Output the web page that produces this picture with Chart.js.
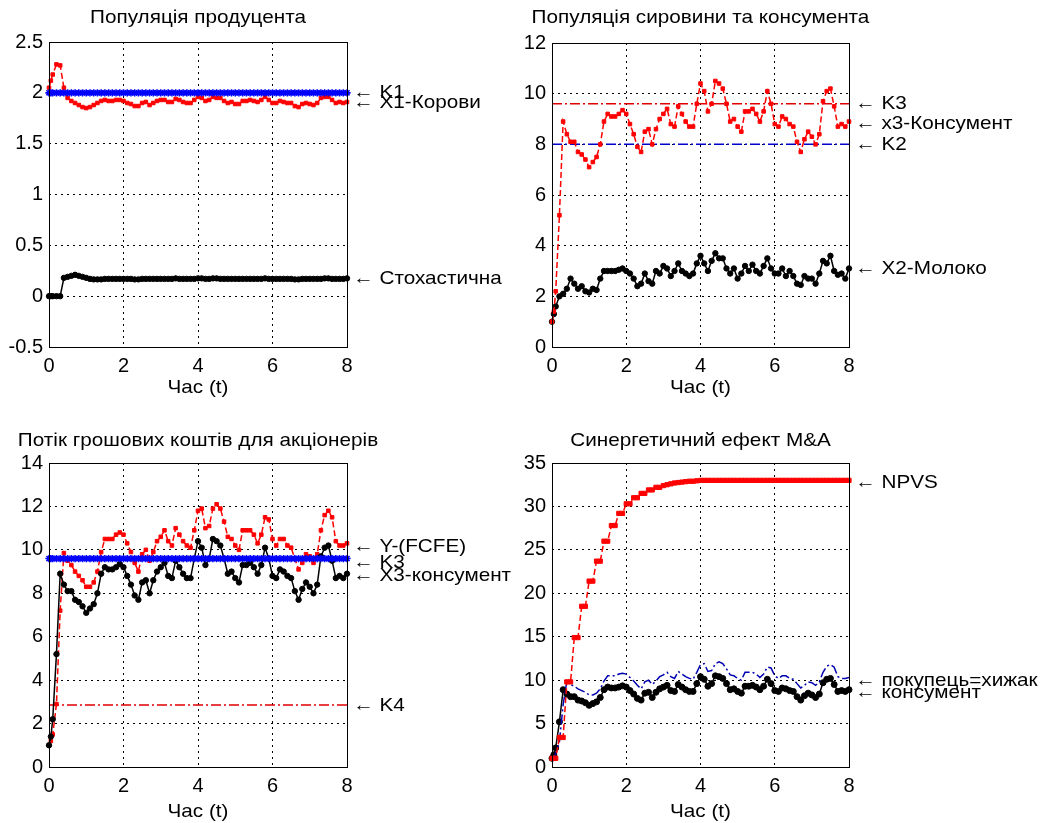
<!DOCTYPE html>
<html>
<head>
<meta charset="utf-8">
<script src="https://cdn.jsdelivr.net/npm/chart.js"></script>
<style>
  body { margin: 0; background: #fff; }
  #wrap { position: relative; width: 1042px; height: 823px; overflow: hidden; }
  canvas { position: absolute; }
</style>
</head>
<body>
<div id="wrap">
  <canvas id="c1" width="521" height="411" style="left:0;top:0"></canvas>
  <canvas id="c2" width="521" height="411" style="left:521px;top:0"></canvas>
  <canvas id="c3" width="521" height="412" style="left:0;top:411px"></canvas>
  <canvas id="c4" width="521" height="412" style="left:521px;top:411px"></canvas>
</div>
<script>
// time points (t)
const t = [0, 0.05, 0.1, 0.2, 0.3, 0.4, 0.5, 0.6, 0.7, 0.8,
  0.9, 1.0, 1.1, 1.2, 1.3, 1.4, 1.5, 1.6, 1.7, 1.8,
  1.9, 2.0, 2.1, 2.2, 2.3, 2.4, 2.5, 2.6, 2.7, 2.8,
  2.9, 3.0, 3.1, 3.2, 3.3, 3.4, 3.5, 3.6, 3.7, 3.8,
  3.9, 4.0, 4.1, 4.2, 4.3, 4.4, 4.5, 4.6, 4.7, 4.8,
  4.9, 5.0, 5.1, 5.2, 5.3, 5.4, 5.5, 5.6, 5.7, 5.8,
  5.9, 6.0, 6.1, 6.2, 6.3, 6.4, 6.5, 6.6, 6.7, 6.8,
  6.9, 7.0, 7.1, 7.2, 7.3, 7.4, 7.5, 7.6, 7.7, 7.8,
  7.9, 8.0]

// X1 - Корови
const x1 = [2.05, 2.12, 2.18, 2.28, 2.27, 2.05, 1.95, 1.92, 1.90, 1.88,
  1.86, 1.85, 1.86, 1.88, 1.90, 1.92, 1.93, 1.92, 1.92, 1.93,
  1.93, 1.92, 1.90, 1.89, 1.87, 1.87, 1.90, 1.91, 1.88, 1.90,
  1.92, 1.93, 1.93, 1.91, 1.91, 1.94, 1.93, 1.91, 1.90, 1.90,
  1.93, 1.96, 1.95, 1.92, 1.93, 1.96, 1.95, 1.95, 1.92, 1.90,
  1.91, 1.89, 1.89, 1.92, 1.92, 1.93, 1.92, 1.91, 1.93, 1.96,
  1.93, 1.90, 1.90, 1.92, 1.91, 1.90, 1.90, 1.87, 1.86, 1.89,
  1.90, 1.89, 1.88, 1.90, 1.95, 1.96, 1.96, 1.93, 1.90, 1.91,
  1.90, 1.91]

// Стохастична
const stoch = [0, 0, 0, 0, 0, 0.18, 0.19, 0.20, 0.21, 0.20,
  0.19, 0.18, 0.17, 0.165, 0.165, 0.165, 0.17, 0.17, 0.17, 0.17,
  0.17, 0.17, 0.17, 0.17, 0.165, 0.165, 0.17, 0.17, 0.17, 0.17,
  0.17, 0.17, 0.17, 0.17, 0.17, 0.175, 0.17, 0.17, 0.17, 0.17,
  0.17, 0.175, 0.175, 0.17, 0.17, 0.175, 0.175, 0.17, 0.17, 0.17,
  0.17, 0.17, 0.17, 0.17, 0.17, 0.17, 0.17, 0.17, 0.17, 0.175,
  0.17, 0.17, 0.17, 0.17, 0.17, 0.17, 0.17, 0.165, 0.165, 0.17,
  0.17, 0.17, 0.17, 0.17, 0.17, 0.175, 0.175, 0.17, 0.17, 0.17,
  0.17, 0.175]

// X2 - Молоко
const x2 = [1.0, 1.3, 1.6, 2.0, 2.1, 2.3, 2.7, 2.5, 2.3, 2.4,
  2.2, 2.15, 2.3, 2.25, 2.7, 3.0, 3.0, 3.0, 3.0, 3.05,
  3.1, 3.0, 2.9, 2.7, 2.4, 2.5, 2.9, 2.6, 2.5, 3.0,
  2.9, 3.2, 3.1, 2.8, 3.0, 3.3, 3.0, 2.9, 2.8, 2.9,
  3.3, 3.6, 3.3, 3.0, 3.4, 3.7, 3.5, 3.5, 3.1, 2.9,
  3.1, 2.7, 2.9, 3.2, 3.0, 3.25, 3.0, 2.9, 3.2, 3.5,
  3.1, 2.9, 2.9, 3.1, 2.8, 3.0, 2.8, 2.5, 2.45, 2.8,
  2.7, 2.7, 2.5, 2.9, 3.4, 3.3, 3.6, 3.0, 2.85, 2.9,
  2.7, 3.1]

// x3 - Консумент
const x3 = [1.0, 1.4, 2.2, 5.2, 8.9, 8.4, 8.1, 8.1, 7.7, 7.6,
  7.4, 7.1, 7.3, 7.5, 8.0, 8.9, 9.2, 9.1, 9.1, 9.2,
  9.35, 9.2, 8.8, 8.4, 7.9, 7.7, 8.5, 8.6, 8.0, 8.6,
  9.0, 9.2, 9.4, 8.8, 8.7, 9.5, 9.2, 8.9, 8.7, 8.7,
  9.6, 10.4, 10.1, 9.3, 9.6, 10.5, 10.4, 10.2, 9.6, 8.9,
  9.0, 8.7, 8.5, 9.3, 9.3, 9.4, 9.2, 8.9, 9.3, 10.1,
  9.6, 8.8, 8.7, 9.1, 9.0, 8.8, 8.7, 8.1, 7.7, 8.2,
  8.5, 8.3, 8.0, 8.4, 9.7, 10.1, 10.2, 9.5, 8.7, 8.8,
  8.7, 8.9]

// Y - (FCFE), покупець=хижак
const fcfe = [1.0, 1.2, 1.5, 2.9, 7.2, 9.85, 9.5, 9.3, 9.0, 8.8,
  8.6, 8.3, 8.3, 8.5, 9.0, 9.9, 10.5, 10.5, 10.5, 10.7,
  10.8, 10.7, 10.3, 9.9, 9.4, 9.0, 9.8, 10.0, 9.5, 9.9,
  10.4, 10.6, 10.9, 10.4, 10.2, 11.0, 10.7, 10.4, 10.2, 10.1,
  10.9, 11.8, 11.9, 11.0, 11.1, 11.9, 12.1, 11.9, 11.3, 10.6,
  10.5, 10.2, 10.0, 10.9, 10.9, 10.9, 10.7, 10.3, 10.7, 11.5,
  11.4, 10.5, 10.2, 10.5, 10.5, 10.2, 10.1, 9.6, 9.1, 9.4,
  9.8, 9.7, 9.4, 9.8, 10.9, 11.6, 11.8, 11.5, 10.4, 10.2,
  10.2, 10.3]

// NPVS
const npvs = [1.0, 1.0, 1.0, 3.4, 3.4, 9.8, 9.8, 14.9, 14.9, 18.5,
  18.5, 21.4, 21.4, 23.7, 23.7, 26.0, 26.0, 27.8, 27.8, 29.2,
  29.2, 30.3, 30.3, 31.0, 31.0, 31.5, 31.5, 31.9, 31.9, 32.2,
  32.2, 32.4, 32.5, 32.6, 32.7, 32.75, 32.8, 32.85, 32.9, 32.9,
  32.95, 33.0, 33.0, 33.0, 33.0, 33.0, 33.0, 33.0, 33.0, 33.0,
  33.0, 33.0, 33.0, 33.0, 33.0, 33.0, 33.0, 33.0, 33.0, 33.0,
  33.0, 33.0, 33.0, 33.0, 33.0, 33.0, 33.0, 33.0, 33.0, 33.0,
  33.0, 33.0, 33.0, 33.0, 33.0, 33.0, 33.0, 33.0, 33.0, 33.0,
  33.0, 33.0]

// constant levels
const K1 = 2.0
const K2 = 8.0
const K3 = 9.6
const K4 = 2.86

// right-hand labels and the value they point at
const notes1 = ["\u2190 K1", "\u2190 X1-Корови", "\u2190 Стохастична"]
const notesAt1 = [2.0, 1.9, 0.17]
const notes2 = ["\u2190 K3", "\u2190 x3-Консумент", "\u2190 K2", "\u2190 X2-Молоко"]
const notesAt2 = [9.6, 8.8, 8.0, 3.07]
const notes3 = ["\u2190 Y-(FCFE)", "\u2190 K3", "\u2190 X3-консумент", "\u2190 K4"]
const notesAt3 = [10.15, 9.4, 8.8, 2.8]
const notes4 = ["\u2190 NPVS", "\u2190 покупець=хижак", "\u2190 консумент"]
const notesAt4 = [32.7, 9.95, 8.55]

const FONT = 'Arial, "Liberation Sans", sans-serif'
const FS = 19
const STRETCH = 1.09 // the reference text is a bit wider than plain Arial
const RED = "#ff0000"
const BLUE = "#0000ff"

const pts = (ys) => t.map((x, i) => ({ x: x, y: ys[i] }))
const level = (v) => t.map((x) => ({ x: x, y: v }))

const redSquares = (ys, r) => ({
  data: pts(ys), borderColor: RED, backgroundColor: RED, borderWidth: 1.5,
  borderDash: [6, 3], pointStyle: "rect", pointRadius: r || 2.5, pointBorderWidth: 1, clip: false,
})
const blackDots = (ys, r) => ({
  data: pts(ys), borderColor: "#000", backgroundColor: "#000", borderWidth: 1.5,
  pointStyle: "circle", pointRadius: r || 2.7, pointBorderWidth: 1, clip: false,
})
const blueStars = (v) => ({
  data: level(v), borderColor: BLUE, backgroundColor: BLUE, borderWidth: 3,
  pointStyle: "star", pointRadius: 3.6, pointBorderWidth: 1.6, clip: false,
})
const dashDot = (data, color) => ({
  data: data, borderColor: color, borderWidth: 1.5, borderDash: [10, 3, 2, 3],
  pointRadius: 0, clip: false,
})

function wideText(ctx, txt, x, y) {
  ctx.save()
  ctx.translate(x, y)
  ctx.scale(STRETCH, 1)
  ctx.fillText(txt, 0, 0)
  ctx.restore()
}

// titles, x label, box and arrows drawn around the chart area
const decor = {
  id: "decor",
  afterDraw(chart, args, o) {
    const { ctx, chartArea: a, scales } = chart
    ctx.save()
    ctx.strokeStyle = "#000"
    ctx.lineWidth = 1
    ctx.strokeRect(Math.round(a.left) + 0.5, Math.round(a.top) + 0.5,
      Math.round(a.right - a.left), Math.round(a.bottom - a.top))
    ctx.fillStyle = "#000"
    ctx.font = FS + "px " + FONT
    ctx.textBaseline = "middle"
    ctx.textAlign = "center"
    const cx = (a.left + a.right) / 2
    wideText(ctx, o.title, cx, o.titleY)
    wideText(ctx, "Час (t)", cx, o.xlabelY)
    ctx.textAlign = "left"
    o.notes.forEach((txt, i) => {
      wideText(ctx, txt, a.right + 6, scales.y.getPixelForValue(o.notesAt[i]))
    })
    ctx.restore()
  },
}

function plot(id, cfg) {
  const gridColor = (c) =>
    c.tick && (c.tick.value === c.scale.min || c.tick.value === c.scale.max) ? "rgba(0,0,0,0)" : "#000"
  return new Chart(document.getElementById(id), {
    type: "line",
    data: { datasets: cfg.datasets },
    options: {
      responsive: false,
      animation: false,
      devicePixelRatio: 1,
      layout: { padding: { top: cfg.top, right: cfg.padRight, left: 0, bottom: 0 } },
      plugins: {
        legend: { display: false },
        tooltip: { enabled: false },
        decor: { title: cfg.title, titleY: cfg.titleY, xlabelY: cfg.xlabelY, notes: cfg.notes, notesAt: cfg.notesAt },
      },
      scales: {
        x: {
          type: "linear", min: 0, max: 8,
          afterFit: (s) => { s.height = cfg.xHeight },
          ticks: { stepSize: 2, padding: 7, color: "#000", font: { family: FONT, size: 20 } },
          grid: { color: gridColor, drawTicks: false, lineWidth: 1 },
          border: { display: false, dash: [2, 4] },
        },
        y: {
          min: cfg.ymin, max: cfg.ymax,
          afterFit: (s) => { s.width = cfg.yWidth },
          ticks: { stepSize: cfg.ystep, padding: 6, color: "#000", font: { family: FONT, size: 20 }, callback: (v) => String(v) },
          grid: { color: gridColor, drawTicks: false, lineWidth: 1 },
          border: { display: false, dash: [2, 4] },
        },
      },
    },
    plugins: [decor],
  })
}

plot("c1", {
  title: "Популяція продуцента", titleY: 18, xlabelY: 388,
  top: 42, padRight: 174, xHeight: 64, yWidth: 49,
  ymin: -0.5, ymax: 2.5, ystep: 0.5,
  notes: notes1, notesAt: notesAt1,
  datasets: [blueStars(K1), redSquares(x1), blackDots(stoch)],
})

plot("c2", {
  title: "Популяція сировини та консумента", titleY: 18, xlabelY: 388,
  top: 43, padRight: 193, xHeight: 64, yWidth: 31,
  ymin: 0, ymax: 12, ystep: 2,
  notes: notes2, notesAt: notesAt2,
  datasets: [redSquares(x3), blackDots(x2), dashDot(level(K3), "#e00000"), dashDot(level(K2), "#0000cc")],
})

plot("c3", {
  title: "Потік грошових коштів для акціонерів", titleY: 30, xlabelY: 401,
  top: 52, padRight: 174, xHeight: 56, yWidth: 49,
  ymin: 0, ymax: 14, ystep: 2,
  notes: notes3, notesAt: notesAt3,
  datasets: [blueStars(K3), blackDots(x3), redSquares(fcfe), dashDot(level(K4), "#e00000")],
})

plot("c4", {
  title: "Синергетичний ефект M&A", titleY: 30, xlabelY: 401,
  top: 52, padRight: 193, xHeight: 56, yWidth: 31,
  ymin: 0, ymax: 35, ystep: 5,
  notes: notes4, notesAt: notesAt4,
  datasets: [redSquares(npvs, 3), dashDot(pts(fcfe), "#0000b0"), blackDots(x3, 3)],
})
</script>
</body>
</html>
